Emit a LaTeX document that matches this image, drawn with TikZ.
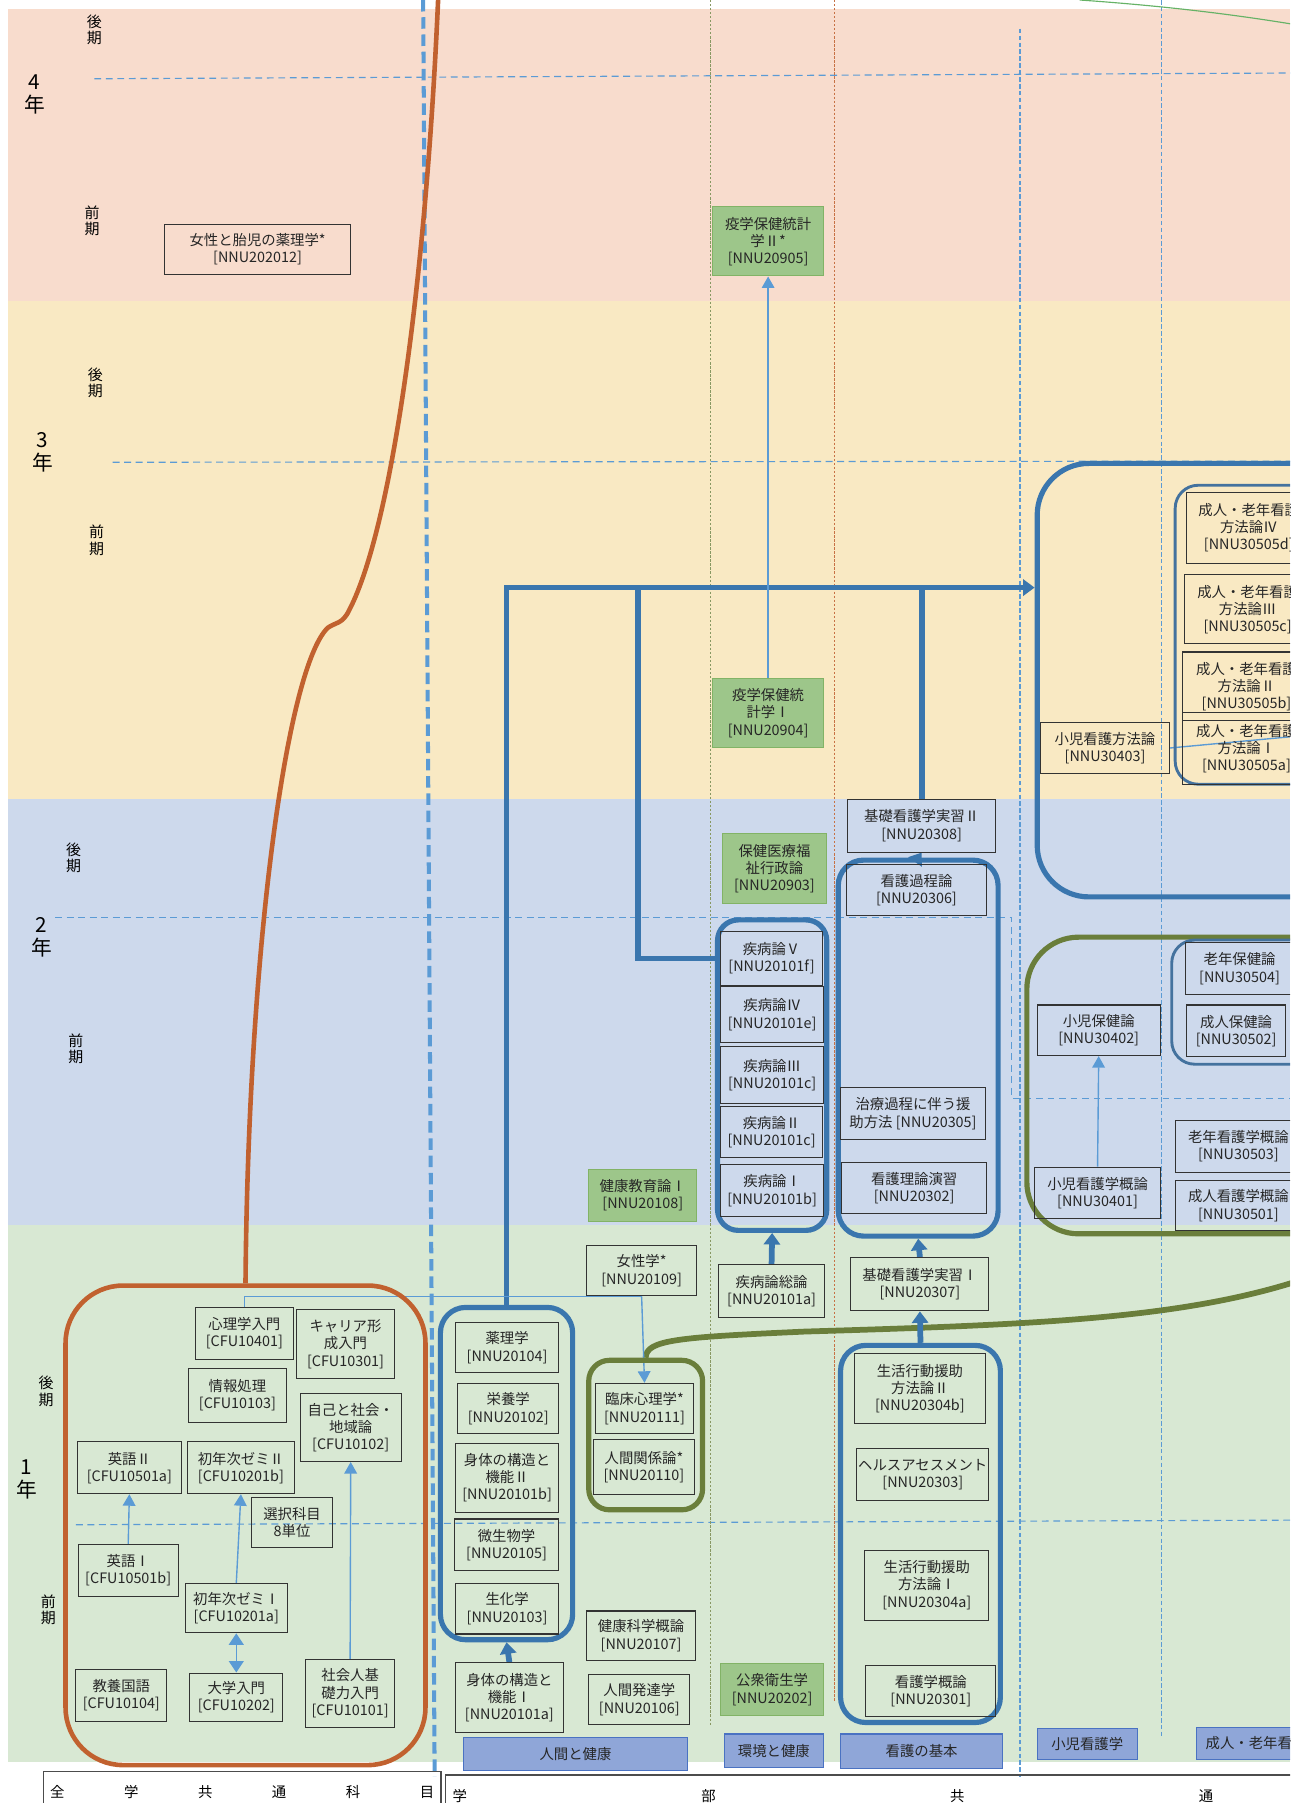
\documentclass[tikz,border=0pt]{standalone}
\usepackage{fontspec}
\setmainfont{Noto Sans CJK JP}
\usetikzlibrary{arrows.meta}
\pgfdeclarelayer{bandlayer}
\pgfdeclarelayer{edgelayer}
\pgfdeclarelayer{nodelayer}
\pgfsetlayers{bandlayer,edgelayer,nodelayer,main}
\definecolor{bandPink}{HTML}{F8DCCD}
\definecolor{bandYellow}{HTML}{F9E9C3}
\definecolor{bandBlue}{HTML}{CDD9EC}
\definecolor{bandGreen}{HTML}{D8E8D3}
\definecolor{lineBlue}{HTML}{3A76AE}
\definecolor{arrowBlue}{HTML}{5B9BD5}
\definecolor{innerBlue}{HTML}{44729E}
\definecolor{rustOrange}{HTML}{C1612F}
\definecolor{oliveGreen}{HTML}{6A7E3B}
\definecolor{boxGreen}{HTML}{9DC68A}
\definecolor{boxGreenLine}{HTML}{82B366}
\definecolor{catBlue}{HTML}{8FA6D8}
\definecolor{catBlueLine}{HTML}{4A72C2}
\tikzstyle{course}=[draw=black!80, line width=0.9pt, align=center, inner sep=1pt, text=black!85, font=\fontsize{12.5}{15}\selectfont]
\tikzstyle{greencourse}=[course, draw=boxGreenLine, fill=boxGreen]
\tikzstyle{category}=[draw=catBlueLine, fill=catBlue, line width=1pt, inner sep=0pt, text=black!85, font=\fontsize{12.5}{14}\selectfont]
\tikzstyle{bluegroup}=[draw=lineBlue, line width=4.5pt, rounded corners=22pt, inner sep=0pt]
\tikzstyle{innergroup}=[draw=innerBlue, line width=2.5pt, rounded corners=20pt, inner sep=0pt]
\tikzstyle{olivegroup}=[draw=oliveGreen, line width=4.5pt, rounded corners=22pt, inner sep=0pt]
\tikzstyle{rustgroup}=[draw=rustOrange, line width=4pt, rounded corners=50pt, inner sep=0pt]
\tikzstyle{thinline}=[draw=arrowBlue, line width=1.2pt]
\tikzstyle{thinarrow}=[thinline, -{Triangle[width=11pt,length=10pt]}]
\tikzstyle{thickline}=[draw=lineBlue, line width=5pt]
\tikzstyle{thickarrow}=[thickline, -{Triangle[width=14pt,length=10pt]}]
\tikzstyle{gridline}=[draw=arrowBlue, line width=1pt, dash pattern=on 6pt off 4pt]
\tikzstyle{termlabel}=[align=center, inner sep=0pt, font=\fontsize{13}{14.5}\selectfont]
\tikzstyle{yearlabel}=[align=center, inner sep=0pt, font=\fontsize{18}{20}\selectfont]
\tikzstyle{barbox}=[draw=black!70, line width=1.2pt, anchor=north west, minimum height=36, inner xsep=6pt, font=\fontsize{12.5}{14}\selectfont]

\begin{document}
\begin{tikzpicture}[x=1pt,y=-1pt]
\useasboundingbox (0,0) rectangle (1135,1568);
\begin{pgfonlayer}{bandlayer}
	\fill[bandPink] (7,8) rectangle (1122,262);
	\fill[bandYellow] (7,262) rectangle (1122,695);
	\fill[bandBlue] (7,695) rectangle (1122,1065);
	\fill[bandGreen] (7,1065) rectangle (1122,1532);
\end{pgfonlayer}
\begin{pgfonlayer}{nodelayer}
\begin{scope}
	\clip (0,0) rectangle (1122,1568);
	% years and terms
	\node [yearlabel] (y4) at (30,82) {4\\年};
	\node [yearlabel] (y3) at (37,393) {3\\年};
	\node [yearlabel] (y2) at (36,815) {2\\年};
	\node [yearlabel] (y1) at (23,1287) {1\\年};
	\node [termlabel] (t4b) at (82,26) {後\\期};
	\node [termlabel] (t4a) at (80,192) {前\\期};
	\node [termlabel] (t3b) at (83,333) {後\\期};
	\node [termlabel] (t3a) at (84,470) {前\\期};
	\node [termlabel] (t2b) at (64,746) {後\\期};
	\node [termlabel] (t2a) at (66,912) {前\\期};
	\node [termlabel] (t1b) at (40,1210) {後\\期};
	\node [termlabel] (t1a) at (42,1400) {前\\期};
	% groups
	\node [rustgroup, minimum width=313, minimum height=417] (gZengaku) at (213.5,1326.5) {};
	\node [bluegroup, minimum width=115, minimum height=289] (gNingen) at (440.5,1281.5) {};
	\node [olivegroup, rounded corners=18pt, minimum width=99, minimum height=130] (gRinsho) at (561.5,1248) {};
	\node [bluegroup, rounded corners=18pt, minimum width=95, minimum height=270] (gShippei) at (671.5,935) {};
	\node [bluegroup, minimum width=139, minimum height=327] (gKango2) at (798.5,911.5) {};
	\node [bluegroup, minimum width=139, minimum height=328] (gKango1) at (800.5,1334) {};
	\node [bluegroup, rounded corners=45pt, minimum width=298, minimum height=377] (gBig3) at (1051,591.5) {};
	\node [innergroup, minimum width=148, minimum height=260] (gSeirou3) at (1096,552) {};
	\node [olivegroup, rounded corners=45pt, minimum width=307, minimum height=258] (gShoni2) at (1046.5,944) {};
	\node [innergroup, minimum width=151, minimum height=108] (gSeirou2) at (1094.5,871.5) {};
	% 全学共通科目
	\node [course, minimum width=85, minimum height=45] (shinri) at (212.5,1159.5) {心理学入門\\{}[CFU10401]};
	\node [course, minimum width=85, minimum height=60] (career) at (300.5,1169) {キャリア形\\成入門\\{}[CFU10301]};
	\node [course, minimum width=85, minimum height=47] (joho) at (206.5,1213.5) {情報処理\\{}[CFU10103]};
	\node [course, minimum width=88, minimum height=59] (jiko) at (305,1241.5) {自己と社会・\\地域論\\{}[CFU10102]};
	\node [course, minimum width=91, minimum height=45] (eigo2) at (112.5,1276.5) {英語Ⅱ\\{}[CFU10501a]};
	\node [course, minimum width=93, minimum height=45] (zemi2) at (209.5,1276.5) {初年次ゼミⅡ\\{}[CFU10201b]};
	\node [course, minimum width=70, minimum height=44] (sentaku) at (254,1324) {選択科目\\8単位};
	\node [course, minimum width=87, minimum height=45] (eigo1) at (111.5,1365.5) {英語Ⅰ\\{}[CFU10501b]};
	\node [course, minimum width=89, minimum height=43] (zemi1) at (205.5,1398.5) {初年次ゼミⅠ\\{}[CFU10201a]};
	\node [course, minimum width=79, minimum height=45] (kokugo) at (105.5,1474.5) {教養国語\\{}[CFU10104]};
	\node [course, minimum width=81, minimum height=42] (daigaku) at (205.5,1476) {大学入門\\{}[CFU10202]};
	\node [course, minimum width=77, minimum height=59] (shakai) at (304.5,1472.5) {社会人基\\礎力入門\\{}[CFU10101]};
	\node [course, minimum width=162, minimum height=44] (jyosei) at (224,217) {女性と胎児の薬理学*\\{}[NNU202012]};
	% 人間と健康
	\node [course, minimum width=90, minimum height=44] (yakuri) at (441,1172) {薬理学\\{}[NNU20104]};
	\node [course, minimum width=88, minimum height=44] (eiyo) at (442,1225) {栄養学\\{}[NNU20102]};
	\node [course, minimum width=90, minimum height=60] (karada2) at (441,1285) {身体の構造と\\機能Ⅱ\\{}[NNU20101b]};
	\node [course, minimum width=91, minimum height=45] (biseibutsu) at (440.5,1343.5) {微生物学\\{}[NNU20105]};
	\node [course, minimum width=90, minimum height=44] (seika) at (441,1399) {生化学\\{}[NNU20103]};
	\node [course, minimum width=94, minimum height=61] (karada1) at (443,1476.5) {身体の構造と\\機能Ⅰ\\{}[NNU20101a]};
	\node [greencourse, minimum width=94, minimum height=45] (kenkyo1) at (559,1039.5) {健康教育論Ⅰ\\{}[NNU20108]};
	\node [course, minimum width=96, minimum height=44] (josei) at (558,1105) {女性学*\\{}[NNU20109]};
	\node [course, minimum width=85, minimum height=44] (rinsho) at (560.5,1225) {臨床心理学*\\{}[NNU20111]};
	\node [course, minimum width=88, minimum height=48] (ningenk) at (560,1276) {人間関係論*\\{}[NNU20110]};
	\node [course, minimum width=95, minimum height=43] (kenkagaku) at (557.5,1422.5) {健康科学概論\\{}[NNU20107]};
	\node [course, minimum width=88, minimum height=44] (hattatsu) at (556,1478) {人間発達学\\{}[NNU20106]};
	% 環境と健康
	\node [greencourse, minimum width=96, minimum height=60] (eki2) at (668,210) {疫学保健統計\\学Ⅱ*\\{}[NNU20905]};
	\node [greencourse, minimum width=96, minimum height=60] (eki1) at (668,620) {疫学保健統\\計学Ⅰ\\{}[NNU20904]};
	\node [greencourse, minimum width=91, minimum height=61] (gyosei) at (673.5,755.5) {保健医療福\\祉行政論\\{}[NNU20903]};
	\node [course, minimum width=88, minimum height=47] (shippei5) at (671,833.5) {疾病論Ⅴ\\{}[NNU20101f]};
	\node [course, minimum width=89, minimum height=49] (shippei4) at (671.5,882.5) {疾病論Ⅳ\\{}[NNU20101e]};
	\node [course, minimum width=89, minimum height=50] (shippei3) at (671.5,935) {疾病論Ⅲ\\{}[NNU20101c]};
	\node [course, minimum width=88, minimum height=45] (shippei2) at (671,984.5) {疾病論Ⅱ\\{}[NNU20101c]};
	\node [course, minimum width=89, minimum height=45] (shippei1) at (671.5,1035.5) {疾病論Ⅰ\\{}[NNU20101b]};
	\node [course, minimum width=92, minimum height=46] (soron) at (671,1123) {疾病論総論\\{}[NNU20101a]};
	\node [greencourse, minimum width=89, minimum height=45] (koshu) at (671.5,1469.5) {公衆衛生学\\{}[NNU20202]};
	% 看護の基本
	\node [course, minimum width=129, minimum height=46] (jisshu2) at (801.5,718) {基礎看護学実習Ⅱ\\{}[NNU20308]};
	\node [course, minimum width=122, minimum height=44] (katei) at (797,774) {看護過程論\\{}[NNU20306]};
	\node [course, minimum width=126, minimum height=45] (chiryo) at (794,968.5) {治療過程に伴う援\\助方法 [NNU20305]};
	\node [course, minimum width=126, minimum height=44] (riron) at (795,1033) {看護理論演習\\{}[NNU20302]};
	\node [course, minimum width=120, minimum height=46] (jisshu1) at (800,1117) {基礎看護学実習Ⅰ\\{}[NNU20307]};
	\node [course, minimum width=114, minimum height=61] (seikatsu2) at (800,1207.5) {生活行動援助\\方法論Ⅱ\\{}[NNU20304b]};
	\node [course, minimum width=115, minimum height=45] (health) at (802.5,1282.5) {ヘルスアセスメント\\{}[NNU20303]};
	\node [course, minimum width=108, minimum height=61] (seikatsu1) at (806,1378.5) {生活行動援助\\方法論Ⅰ\\{}[NNU20304a]};
	\node [course, minimum width=113, minimum height=45] (gairon) at (809.5,1470.5) {看護学概論\\{}[NNU20301]};
	% 小児・成人・老年
	\node [course, minimum width=112, minimum height=45] (hohoron) at (961,650.5) {小児看護方法論\\{}[NNU30403]};
	\node [course, minimum width=108, minimum height=62] (seirou4) at (1086,459) {成人・老年看護\\方法論Ⅳ\\{}[NNU30505d]};
	\node [course, minimum width=110, minimum height=60] (seirou3) at (1085,530) {成人・老年看護\\方法論Ⅲ\\{}[NNU30505c]};
	\node [course, minimum width=112, minimum height=60] (seirou2) at (1084,597) {成人・老年看護\\方法論Ⅱ\\{}[NNU30505b]};
	\node [course, minimum width=112, minimum height=62] (seirou1) at (1084,651) {成人・老年看護\\方法論Ⅰ\\{}[NNU30505a]};
	\node [course, minimum width=107, minimum height=44] (shoniHoken) at (955.5,896) {小児保健論\\{}[NNU30402]};
	\node [course, minimum width=109, minimum height=45] (shoniGairon) at (954.5,1037.5) {小児看護学概論\\{}[NNU30401]};
	\node [course, minimum width=94, minimum height=45] (rouHoken) at (1078,842.5) {老年保健論\\{}[NNU30504]};
	\node [course, minimum width=86, minimum height=45] (seiHoken) at (1075,896.5) {成人保健論\\{}[NNU30502]};
	\node [course, minimum width=110, minimum height=45] (rouGairon) at (1077,997) {老年看護学概論\\{}[NNU30503]};
	\node [course, minimum width=110, minimum height=43] (seiGairon) at (1077,1048.5) {成人看護学概論\\{}[NNU30501]};
	% categories
	\node [category, minimum width=195, minimum height=29] (catNingen) at (500.5,1525.5) {人間と健康};
	\node [category, minimum width=86, minimum height=29] (catKankyo) at (673,1522.5) {環境と健康};
	\node [category, minimum width=141, minimum height=30] (catKango) at (801.5,1523) {看護の基本};
	\node [category, minimum width=87, minimum height=27] (catShoni) at (945.5,1516.5) {小児看護学};
	\node [category, anchor=west, minimum height=28, inner xsep=8pt] (catSeirou) at (1040,1516) {成人・老年看護学};
	% bottom bar
	\node [barbox] (barZengaku) at (37,1540) {\makebox[334pt][s]{全\hfill 学\hfill 共\hfill 通\hfill 科\hfill 目}};
	\node [barbox] (barGakubu) at (387,1543) {\makebox[661.5pt][s]{学\hfill 部\hfill 共\hfill 通}\rule{90pt}{0pt}};
\end{scope}
\end{pgfonlayer}
\begin{pgfonlayer}{edgelayer}
\begin{scope}
	\clip (0,0) rectangle (1122,1568);
	% grid
	\draw [gridline] (82,68.5) -- (1122,63.5);
	\draw [gridline] (98,402) -- (1122,401);
	\draw [gridline] (48,798) -- (880,798) -- (880,955) -- (1122,955);
	\draw [gridline] (66,1326) -- (1122,1322);
	\draw [draw=arrowBlue, line width=3.5pt, dash pattern=on 10pt off 5pt] (368,0) -- (378,1545);
	\draw [draw=oliveGreen!80, line width=1pt, dash pattern=on 2pt off 1.5pt] (618,0) -- (618,1500);
	\draw [draw=rustOrange!90, line width=1pt, dash pattern=on 2pt off 1.5pt] (726,0) -- (726,1480);
	\draw [draw=arrowBlue, line width=1pt, dash pattern=on 4pt off 2pt] (887,25) -- (887,1545);
	\draw [draw=arrowBlue, line width=1pt, dash pattern=on 4pt off 2pt] (1010,0) -- (1010,1510);
	\draw [draw=green!50!black!60, line width=1pt] (939,0) .. controls (1010,5) and (1070,12) .. (1130,22);
	% curves
	\draw [draw=rustOrange, line width=4pt] (gZengaku.north) .. controls (216,820) and (250,580) .. (285,546) .. controls (292,541) and (298,543) .. (304,530) .. controls (340,460) and (370,250) .. (381,0);
	\draw [draw=oliveGreen, line width=5pt] (gRinsho.north) .. controls (562,1165) and (590,1163) .. (700,1158) .. controls (900,1152) and (1030,1147) .. (1135,1112);
	% thick links
	\coordinate (tee) at (555,511);
	\draw [thickarrow] (gNingen.north) |- (gBig3.west |- tee);
	\draw [thickline] (tee) |- (gShippei.west |- shippei5);
	\draw [thickline] (jisshu2.north |- tee) -- (jisshu2.north);
	\draw [thickarrow] (gKango2.north) -- (jisshu2.south);
	\draw [thickarrow] (jisshu1.north) -- (gKango2.south);
	\draw [thickarrow] (gKango1.north) -- (jisshu1.south);
	\draw [thickarrow] (soron.north) -- (gShippei.south);
	\draw [thickarrow] (karada1.north) -- (gNingen.south);
	% thin links
	\draw [thinarrow] (eigo1.north) -- (eigo2.south);
	\draw [thinarrow] (zemi1.north) -- (zemi2.south);
	\draw [thinline, {Triangle[width=13pt,length=10pt]}-{Triangle[width=13pt,length=10pt]}] (zemi1.south) -- (daigaku.north);
	\draw [thinarrow] (shakai.north) -- (jiko.south);
	\draw [thinline] (shinri.north) |- (josei.south);
	\draw [thinarrow] (josei.south) -- (rinsho.north);
	\draw [thinarrow] (eki1.north) -- (eki2.south);
	\draw [thinarrow] (shoniGairon.north) -- (shoniHoken.south);
	\coordinate (hohoEnd) at (1130,640);
	\draw [thinline] (hohoron.east) -- (hohoEnd);
\end{scope}
\end{pgfonlayer}
\end{tikzpicture}
\end{document}
